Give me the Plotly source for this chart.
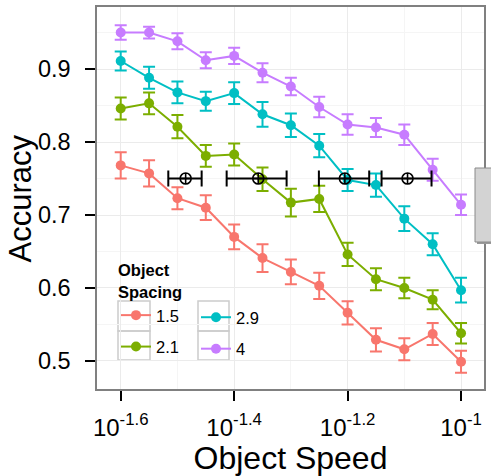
import plotly.graph_objects as go

# ---- data ----
speed_exp = [-1.6, -1.55, -1.5, -1.45, -1.4, -1.35, -1.3, -1.25, -1.2, -1.15, -1.1, -1.05, -1.0]
spacing_labels = ["1.5", "2.1", "2.9", "4"]
acc_15 = [0.768, 0.757, 0.723, 0.710, 0.670, 0.641, 0.622, 0.603, 0.566, 0.529, 0.516, 0.537, 0.499]
acc_21 = [0.846, 0.853, 0.821, 0.781, 0.783, 0.749, 0.717, 0.722, 0.646, 0.612, 0.600, 0.584, 0.538]
acc_29 = [0.911, 0.888, 0.868, 0.856, 0.867, 0.838, 0.823, 0.795, 0.748, 0.741, 0.695, 0.660, 0.597]
acc_4 = [0.950, 0.950, 0.938, 0.912, 0.918, 0.895, 0.876, 0.848, 0.824, 0.820, 0.810, 0.762, 0.714]
err_15 = [0.018, 0.018, 0.015, 0.017, 0.017, 0.019, 0.017, 0.018, 0.016, 0.016, 0.015, 0.015, 0.015]
err_21 = [0.015, 0.015, 0.016, 0.015, 0.015, 0.016, 0.019, 0.018, 0.016, 0.015, 0.014, 0.013, 0.014]
err_29 = [0.013, 0.015, 0.015, 0.013, 0.015, 0.017, 0.016, 0.016, 0.015, 0.016, 0.017, 0.015, 0.017]
err_4 = [0.010, 0.008, 0.011, 0.011, 0.011, 0.013, 0.012, 0.014, 0.014, 0.013, 0.014, 0.015, 0.014]

thr_exp = [-1.4855, -1.3575, -1.2048, -1.0943]
thr_acc = [0.75, 0.75, 0.75, 0.75]
thr_lo = [0.0306, 0.0557, 0.0458, 0.0458]
thr_hi = [0.0282, 0.0500, 0.0429, 0.0423]

x_tickvals = [-1.6, -1.4, -1.2, -1.0]
x_ticktext = ["10<sup>-1.6</sup>", "10<sup>-1.4</sup>", "10<sup>-1.2</sup>", "10<sup>-1</sup>"]
y_tickvals = [0.5, 0.6, 0.7, 0.8, 0.9]
y_ticktext = ["0.5", "0.6", "0.7", "0.8", "0.9"]

colors = ["#F8766D", "#7CAE00", "#00BFC4", "#C77CFF"]
series = [acc_15, acc_21, acc_29, acc_4]
errs = [err_15, err_21, err_29, err_4]
legends = ["legend", "legend", "legend2", "legend2"]

FONT = "Liberation Sans, Arial, Helvetica, sans-serif"

fig = go.Figure()
for lab, ys, es, c, lg in zip(spacing_labels, series, errs, colors, legends):
    fig.add_trace(go.Scatter(
        x=speed_exp, y=ys, name=lab, mode="lines+markers",
        line=dict(color=c, width=2),
        marker=dict(color=c, size=10),
        error_y=dict(type="data", array=es, color=c, thickness=2, width=6),
        legend=lg, legendgroup=lab,
    ))

fig.add_trace(go.Scatter(
    x=thr_exp, y=thr_acc, mode="markers", showlegend=False,
    marker=dict(symbol="circle-cross-open", color="black", size=11, line=dict(width=1.6)),
    error_x=dict(type="data", symmetric=False, array=thr_hi, arrayminus=thr_lo,
                 color="black", thickness=2, width=8),
))

xr = [-1.6418, -0.9595]
yr = [0.4616, 0.985]

def px2x(px):
    return (px - 97) / 387.0

def py2y(py):
    return (389 - py) / 382.0

shapes = [
    dict(type="rect", xref="paper", yref="paper", x0=px2x(100), x1=px2x(272),
         y0=py2y(362), y1=py2y(251), fillcolor="white", line=dict(width=0), layer="between"),
]
for (kx0, kx1) in [(118, 150), (198, 229)]:
    for (ky0, ky1) in [(301, 331), (331, 360)]:
        shapes.append(dict(type="rect", xref="paper", yref="paper",
                           x0=px2x(kx0), x1=px2x(kx1), y0=py2y(ky1), y1=py2y(ky0),
                           fillcolor="rgba(0,0,0,0)", line=dict(color="#cccccc", width=1.5),
                           layer="between"))
shapes.append(dict(type="rect", xref="paper", yref="paper", x0=px2x(477), x1=px2x(500),
                   y0=py2y(244), y1=py2y(170), fillcolor="#9a9a9a", line=dict(width=0), layer="above"))
shapes.append(dict(type="rect", xref="paper", yref="paper", x0=px2x(475), x1=px2x(500),
                   y0=py2y(242), y1=py2y(168), fillcolor="#d3d3d3", line=dict(color="#8a8a8a", width=1), layer="above"))

fig.update_layout(
    width=491, height=476,
    margin=dict(l=97, r=7, t=7, b=87, autoexpand=False),
    paper_bgcolor="white", plot_bgcolor="white",
    font=dict(family=FONT, color="black"),
    shapes=shapes,
    annotations=[dict(text="Accuracy", xref="paper", yref="paper", x=px2x(20), y=py2y(198.5),
                      xanchor="center", yanchor="middle", textangle=-90, showarrow=False,
                      font=dict(size=31, family=FONT, color="black"))],
    legend=dict(
        title=dict(text="<b>Object<br>Spacing</b>", font=dict(size=16.5, family=FONT)),
        x=px2x(116), y=py2y(255), xanchor="left", yanchor="top",
        bgcolor="rgba(0,0,0,0)", font=dict(size=16.5, family=FONT),
        traceorder="grouped", tracegroupgap=7, itemwidth=30,
    ),
    legend2=dict(
        x=px2x(196), y=py2y(300), xanchor="left", yanchor="top",
        bgcolor="rgba(0,0,0,0)", font=dict(size=16.5, family=FONT),
        traceorder="grouped", tracegroupgap=7, itemwidth=30,
    ),
)

fig.update_xaxes(
    range=xr, tickmode="array", tickvals=x_tickvals, ticktext=x_ticktext,
    ticks="outside", ticklen=10, tickwidth=2, tickcolor="black",
    tickfont=dict(size=24, family=FONT, color="black"),
    ticklabelstandoff=6, automargin=False,
    showgrid=True, gridcolor="#ebebeb", gridwidth=1.2,
    minor=dict(tickvals=[-1.5, -1.3, -1.1], showgrid=True, gridcolor="#f5f5f5", gridwidth=1),
    showline=True, linecolor="#808080", linewidth=1.5, mirror=True,
    zeroline=False,
    title=dict(text="Object Speed", font=dict(size=32, family=FONT), standoff=10),
)
fig.update_yaxes(
    range=yr, tickmode="array", tickvals=y_tickvals, ticktext=y_ticktext,
    ticks="outside", ticklen=10, tickwidth=2, tickcolor="black",
    tickfont=dict(size=23.5, family=FONT, color="black"),
    ticklabelstandoff=10, automargin=False,
    showgrid=True, gridcolor="#ebebeb", gridwidth=1.2,
    minor=dict(tickvals=[0.55, 0.65, 0.75, 0.85, 0.95], showgrid=True, gridcolor="#f5f5f5", gridwidth=1),
    showline=True, linecolor="#808080", linewidth=1.5, mirror=True,
    zeroline=False,
)

fig.write_html("out.html", config={"displayModeBar": False},
               post_script="document.body.style.margin='0';")
